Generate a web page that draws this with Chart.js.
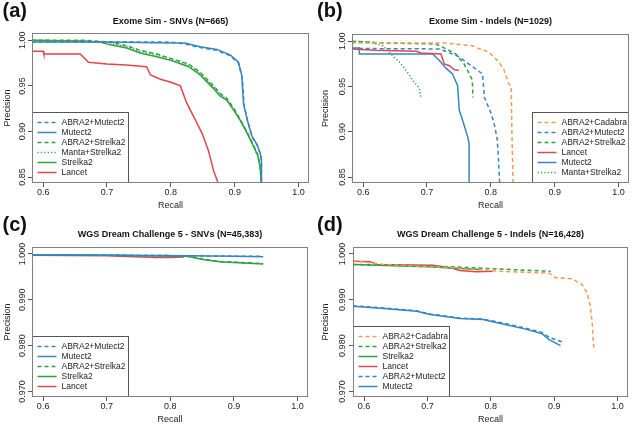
<!DOCTYPE html>
<html>
<head>
<meta charset="utf-8">
<script src="https://cdn.jsdelivr.net/npm/chart.js@4.4.1/dist/chart.umd.min.js"></script>
<style>
  body { margin: 0; background: #fff; }
  #wrap { position: relative; width: 633px; height: 428px; }
  canvas { position: absolute; }
</style>
</head>
<body>
<div id="wrap">
  <canvas id="chartA" width="316" height="214" style="left:0;top:0"></canvas>
  <canvas id="chartB" width="317" height="214" style="left:316px;top:0"></canvas>
  <canvas id="chartC" width="316" height="214" style="left:0;top:214px"></canvas>
  <canvas id="chartD" width="317" height="214" style="left:316px;top:214px"></canvas>
</div>
<script>
// tick values
const recallTicks = [0.6, 0.7, 0.8, 0.9, 1.0];
const exomeTicks = [0.85, 0.90, 0.95, 1.00];
const wgsTicks = [0.970, 0.980, 0.990, 1.000];

// (a) Exome Sim - SNVs
const aAbraMutect2Rec  = [0.582, 0.700, 0.800, 0.822, 0.846, 0.872, 0.893, 0.906, 0.912, 0.915, 0.921, 0.928, 0.936, 0.941, 0.942, 0.942];
const aAbraMutect2Prec = [0.998, 0.998, 0.998, 0.996, 0.992, 0.989, 0.983, 0.975, 0.958, 0.928, 0.910, 0.893, 0.884, 0.874, 0.866, 0.840];
const aMutect2Rec  = [0.582, 0.700, 0.800, 0.822, 0.846, 0.872, 0.893, 0.906, 0.911, 0.914, 0.920, 0.927, 0.935, 0.940, 0.942, 0.942];
const aMutect2Prec = [0.998, 0.998, 0.997, 0.997, 0.993, 0.990, 0.984, 0.976, 0.962, 0.930, 0.912, 0.895, 0.886, 0.876, 0.870, 0.840];
const aAbraStrelka2Rec  = [0.582, 0.668, 0.705, 0.731, 0.752, 0.778, 0.800, 0.828, 0.846, 0.867, 0.877, 0.888, 0.898, 0.909, 0.919, 0.928, 0.936, 0.940, 0.942];
const aAbraStrelka2Prec = [1.000, 1.000, 0.998, 0.994, 0.989, 0.985, 0.980, 0.974, 0.965, 0.950, 0.942, 0.936, 0.926, 0.913, 0.900, 0.887, 0.875, 0.862, 0.840];
const aMantaStrelka2Rec  = [0.582, 0.668, 0.705, 0.731, 0.752, 0.778, 0.800, 0.828, 0.846, 0.867, 0.877, 0.888, 0.898, 0.909, 0.919, 0.928, 0.936, 0.940, 0.942];
const aMantaStrelka2Prec = [1.000, 0.999, 0.997, 0.993, 0.988, 0.984, 0.979, 0.973, 0.964, 0.949, 0.941, 0.935, 0.925, 0.912, 0.899, 0.886, 0.874, 0.861, 0.840];
const aStrelka2Rec  = [0.582, 0.668, 0.689, 0.705, 0.731, 0.752, 0.778, 0.800, 0.828, 0.846, 0.867, 0.877, 0.888, 0.898, 0.909, 0.919, 0.928, 0.936, 0.940, 0.942];
const aStrelka2Prec = [1.000, 0.999, 0.998, 0.995, 0.9915, 0.986, 0.982, 0.978, 0.971, 0.962, 0.947, 0.939, 0.934, 0.924, 0.912, 0.899, 0.886, 0.874, 0.862, 0.840];
const aLancetRec  = [0.582, 0.600, 0.601, 0.658, 0.671, 0.700, 0.730, 0.762, 0.768, 0.785, 0.800, 0.815, 0.825, 0.836, 0.849, 0.859, 0.867, 0.876];
const aLancetPrec = [0.988, 0.988, 0.985, 0.985, 0.976, 0.974, 0.973, 0.971, 0.962, 0.957, 0.954, 0.950, 0.931, 0.916, 0.898, 0.879, 0.857, 0.840];

// (b) Exome Sim - Indels
const bCadabraRec  = [0.582, 0.730, 0.750, 0.771, 0.781, 0.797, 0.810, 0.820, 0.828, 0.832, 0.833, 0.835];
const bCadabraPrec = [0.998, 0.998, 0.9965, 0.995, 0.992, 0.988, 0.979, 0.970, 0.953, 0.950, 0.900, 0.840];
const bAbraMutect2Rec  = [0.582, 0.720, 0.750, 0.771, 0.787, 0.790, 0.800, 0.805, 0.810, 0.812, 0.814];
const bAbraMutect2Prec = [0.992, 0.9915, 0.983, 0.972, 0.964, 0.938, 0.921, 0.910, 0.892, 0.870, 0.840];
const bAbraStrelka2Rec  = [0.582, 0.610, 0.631, 0.714, 0.730, 0.745, 0.758, 0.7635, 0.771, 0.772];
const bAbraStrelka2Prec = [1.000, 0.999, 0.998, 0.997, 0.9915, 0.986, 0.975, 0.968, 0.957, 0.938];
const bLancetRec  = [0.582, 0.620, 0.683, 0.691, 0.722, 0.727, 0.735, 0.743, 0.750];
const bLancetPrec = [0.9915, 0.990, 0.989, 0.987, 0.986, 0.975, 0.973, 0.9685, 0.968];
const bMutect2Rec  = [0.582, 0.594, 0.594, 0.709, 0.719, 0.730, 0.740, 0.748, 0.7505, 0.7557, 0.7635, 0.766, 0.766];
const bMutect2Prec = [0.9925, 0.9925, 0.986, 0.986, 0.979, 0.970, 0.964, 0.951, 0.924, 0.913, 0.895, 0.887, 0.840];
const bMantaStrelka2Rec  = [0.582, 0.610, 0.631, 0.646, 0.657, 0.667, 0.6776, 0.688, 0.6906];
const bMantaStrelka2Prec = [1.000, 0.999, 0.995, 0.984, 0.977, 0.968, 0.957, 0.948, 0.937];

// (c) WGS Dream Challenge 5 - SNVs
const cAbraMutect2Rec  = [0.582, 0.700, 0.825, 0.900, 0.946];
const cAbraMutect2Prec = [0.9998, 0.9997, 0.9996, 0.9995, 0.9995];
const cMutect2Rec  = [0.582, 0.700, 0.825, 0.900, 0.946];
const cMutect2Prec = [0.9998, 0.9997, 0.9996, 0.9995, 0.9994];
const cAbraStrelka2Rec  = [0.582, 0.700, 0.825, 0.836, 0.851, 0.878, 0.900, 0.946];
const cAbraStrelka2Prec = [0.9998, 0.9997, 0.9996, 0.9993, 0.9989, 0.9983, 0.9982, 0.9979];
const cStrelka2Rec  = [0.582, 0.700, 0.825, 0.836, 0.851, 0.878, 0.900, 0.946];
const cStrelka2Prec = [0.9998, 0.9997, 0.9995, 0.9992, 0.9988, 0.9983, 0.9981, 0.9978];
const cLancetRec  = [0.582, 0.700, 0.778, 0.800, 0.822];
const cLancetPrec = [0.9997, 0.9996, 0.9992, 0.9992, 0.9993];

// (d) WGS Dream Challenge 5 - Indels
const dCadabraRec  = [0.582, 0.631, 0.735, 0.8136, 0.892, 0.902, 0.928, 0.944, 0.952, 0.957, 0.960, 0.962, 0.964];
const dCadabraPrec = [0.9985, 0.9977, 0.9970, 0.9962, 0.9958, 0.9948, 0.9946, 0.9933, 0.9915, 0.9886, 0.9850, 0.9800, 0.9791];
const dAbraStrelka2Rec  = [0.582, 0.735, 0.8136, 0.8945];
const dAbraStrelka2Prec = [0.9977, 0.9972, 0.9967, 0.9962];
const dStrelka2Rec  = [0.582, 0.700, 0.782];
const dStrelka2Prec = [0.9977, 0.9972, 0.9966];
const dLancetRec  = [0.582, 0.610, 0.620, 0.709, 0.735, 0.751, 0.777, 0.803];
const dLancetPrec = [0.9984, 0.9983, 0.9977, 0.9975, 0.9970, 0.9964, 0.9961, 0.9962];
const dAbraMutect2Rec  = [0.582, 0.631, 0.683, 0.704, 0.751, 0.7875, 0.8136, 0.855, 0.881, 0.892, 0.913];
const dAbraMutect2Prec = [0.9887, 0.9882, 0.9876, 0.9869, 0.9860, 0.9858, 0.9851, 0.9838, 0.9829, 0.9818, 0.9808];
const dMutect2Rec  = [0.582, 0.631, 0.683, 0.704, 0.751, 0.7875, 0.8136, 0.855, 0.881, 0.892, 0.910];
const dMutect2Prec = [0.9886, 0.9881, 0.9875, 0.9868, 0.9859, 0.9857, 0.9849, 0.9836, 0.9826, 0.9813, 0.9800];

const blue = '#3486c5', green = '#2fa23e', red = '#e0464b', orange = '#f39a55';
const SOLID = [], DASH = [4, 3], DOT = [1.2, 2.2];
const FONT = 'Liberation Sans, Arial, sans-serif';

function pts(rec, prec) {
  return rec.map((r, i) => ({ x: r, y: prec[i] }));
}

function series(label, rec, prec, color, dash) {
  return {
    label: label,
    data: pts(rec, prec),
    borderColor: color,
    borderDash: dash,
    borderWidth: 1.5,
    pointRadius: 0,
    fill: false,
    tension: 0
  };
}

// box, legend, title and panel letter, R style
const panelDecor = {
  id: 'panelDecor',
  afterDatasetsDraw(chart, args, opts) {
    const ctx = chart.ctx, ca = chart.chartArea;
    ctx.save();
    const L = Math.round(ca.left) + 0.5, T = Math.round(ca.top) + 0.5;
    const R = Math.round(ca.right) - 0.5, B = Math.round(ca.bottom) - 0.5;

    // legend
    const ds = chart.data.datasets;
    const bw = 96, bh = ds.length * 10 + 10;
    const bx = opts.legendSide === 'left' ? L : R - bw;
    const by = B - bh;
    ctx.fillStyle = '#fff';
    ctx.fillRect(bx, by, bw, bh);
    ctx.strokeStyle = '#555';
    ctx.lineWidth = 1;
    ctx.strokeRect(bx, by, bw, bh);
    ctx.font = '8.5px ' + FONT;
    ctx.textBaseline = 'middle';
    ctx.textAlign = 'left';
    ds.forEach((d, i) => {
      const y = by + 10 + i * 10;
      ctx.strokeStyle = d.borderColor;
      ctx.lineWidth = 1.5;
      ctx.setLineDash(d.borderDash);
      ctx.beginPath();
      ctx.moveTo(bx + 5, y);
      ctx.lineTo(bx + 24, y);
      ctx.stroke();
      ctx.setLineDash([]);
      ctx.fillStyle = '#222';
      ctx.fillText(d.label, bx + 29, y + 0.5);
    });

    // plot box
    ctx.strokeStyle = '#808080';
    ctx.lineWidth = 1;
    ctx.strokeRect(L, T, R - L, B - T);

    // title
    ctx.fillStyle = '#111';
    ctx.font = 'bold 9px ' + FONT;
    ctx.textAlign = 'center';
    ctx.fillText(opts.title, (ca.left + ca.right) / 2, opts.titleY);

    // panel letter
    ctx.font = 'bold 20px ' + FONT;
    ctx.textAlign = 'left';
    ctx.textBaseline = 'alphabetic';
    ctx.fillText(opts.letter, opts.letterX, 16.5);
    ctx.restore();
  }
};

function makePanel(id, p) {
  new Chart(document.getElementById(id), {
    type: 'line',
    data: { datasets: p.datasets },
    plugins: [panelDecor],
    options: {
      responsive: false,
      animation: false,
      devicePixelRatio: 1,
      events: [],
      layout: { padding: { top: p.top, right: p.right, left: 0, bottom: 0 } },
      plugins: {
        legend: { display: false },
        tooltip: { enabled: false },
        panelDecor: { title: p.title, titleY: p.titleY, letter: p.letter, letterX: p.letterX, legendSide: p.legendSide }
      },
      scales: {
        x: {
          type: 'linear',
          min: 0.5825,
          max: 1.0165,
          afterBuildTicks: s => { s.ticks = recallTicks.map(v => ({ value: v })); },
          afterFit: s => { s.height = 31; },
          ticks: {
            font: { size: 9, family: FONT },
            color: '#222',
            padding: 0.6,
            maxRotation: 0,
            callback: v => v.toFixed(1)
          },
          grid: { drawOnChartArea: false, tickLength: 4, color: '#555' },
          border: { display: false },
          title: { display: true, text: 'Recall', color: '#222', font: { size: 9, family: FONT }, padding: { top: 0, bottom: 2.6 } }
        },
        y: {
          min: p.yMin,
          max: p.yMax,
          afterBuildTicks: s => { s.ticks = p.yTicks.map(v => ({ value: v })); },
          afterFit: s => { s.width = p.yWidth; },
          ticks: {
            font: { size: 9, family: FONT },
            color: '#222',
            minRotation: 90,
            maxRotation: 90,
            crossAlign: 'center',
            padding: p.yTickPad,
            callback: v => v.toFixed(p.yDigits)
          },
          grid: { drawOnChartArea: false, tickLength: 4, color: '#555' },
          border: { display: false },
          title: { display: true, text: 'Precision', color: '#222', font: { size: 9, family: FONT }, padding: { top: p.yTitlePad, bottom: 0 } }
        }
      }
    }
  });
}

makePanel('chartA', {
  title: 'Exome Sim - SNVs (N=665)', titleY: 22, letter: '(a)', letterX: 2.5, legendSide: 'left',
  top: 33, right: 7, yWidth: 32, yTickPad: -3.75, yTitlePad: 2.5,
  yMin: 0.8435, yMax: 1.008, yTicks: exomeTicks, yDigits: 2,
  datasets: [
    series('ABRA2+Mutect2', aAbraMutect2Rec, aAbraMutect2Prec, blue, DASH),
    series('Mutect2', aMutect2Rec, aMutect2Prec, blue, SOLID),
    series('ABRA2+Strelka2', aAbraStrelka2Rec, aAbraStrelka2Prec, green, DASH),
    series('Manta+Strelka2', aMantaStrelka2Rec, aMantaStrelka2Prec, green, DOT),
    series('Strelka2', aStrelka2Rec, aStrelka2Prec, green, SOLID),
    series('Lancet', aLancetRec, aLancetPrec, red, SOLID)
  ]
});

makePanel('chartB', {
  title: 'Exome Sim - Indels (N=1029)', titleY: 22, letter: '(b)', letterX: 1, legendSide: 'right',
  top: 34, right: 4, yWidth: 36, yTickPad: -3.75, yTitlePad: 4.6,
  yMin: 0.8435, yMax: 1.008, yTicks: exomeTicks, yDigits: 2,
  datasets: [
    series('ABRA2+Cadabra', bCadabraRec, bCadabraPrec, orange, DASH),
    series('ABRA2+Mutect2', bAbraMutect2Rec, bAbraMutect2Prec, blue, DASH),
    series('ABRA2+Strelka2', bAbraStrelka2Rec, bAbraStrelka2Prec, green, DASH),
    series('Lancet', bLancetRec, bLancetPrec, red, SOLID),
    series('Mutect2', bMutect2Rec, bMutect2Prec, blue, SOLID),
    series('Manta+Strelka2', bMantaStrelka2Rec, bMantaStrelka2Prec, green, DOT)
  ]
});

makePanel('chartC', {
  title: 'WGS Dream Challenge 5 - SNVs (N=45,383)', titleY: 20.5, letter: '(c)', letterX: 2.5, legendSide: 'left',
  top: 33, right: 8, yWidth: 32, yTickPad: -5.75, yTitlePad: 2.5,
  yMin: 0.9688, yMax: 1.0015, yTicks: wgsTicks, yDigits: 3,
  datasets: [
    series('ABRA2+Mutect2', cAbraMutect2Rec, cAbraMutect2Prec, blue, DASH),
    series('Mutect2', cMutect2Rec, cMutect2Prec, blue, SOLID),
    series('ABRA2+Strelka2', cAbraStrelka2Rec, cAbraStrelka2Prec, green, DASH),
    series('Strelka2', cStrelka2Rec, cStrelka2Prec, green, SOLID),
    series('Lancet', cLancetRec, cLancetPrec, red, SOLID)
  ]
});

makePanel('chartD', {
  title: 'WGS Dream Challenge 5 - Indels (N=16,428)', titleY: 20.5, letter: '(d)', letterX: 1, legendSide: 'left',
  top: 33, right: 5, yWidth: 37, yTickPad: -5.25, yTitlePad: 4.6,
  yMin: 0.9688, yMax: 1.0015, yTicks: wgsTicks, yDigits: 3,
  datasets: [
    series('ABRA2+Cadabra', dCadabraRec, dCadabraPrec, orange, DASH),
    series('ABRA2+Strelka2', dAbraStrelka2Rec, dAbraStrelka2Prec, green, DASH),
    series('Strelka2', dStrelka2Rec, dStrelka2Prec, green, SOLID),
    series('Lancet', dLancetRec, dLancetPrec, red, SOLID),
    series('ABRA2+Mutect2', dAbraMutect2Rec, dAbraMutect2Prec, blue, DASH),
    series('Mutect2', dMutect2Rec, dMutect2Prec, blue, SOLID)
  ]
});
</script>
</body>
</html>
